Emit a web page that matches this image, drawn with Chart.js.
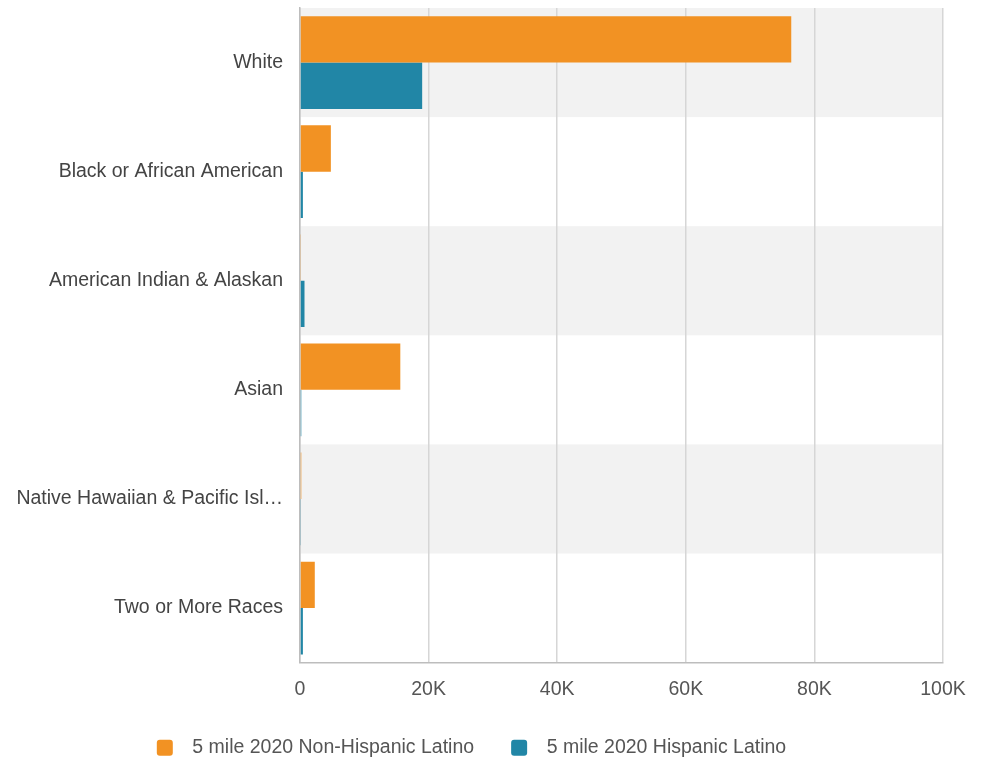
<!DOCTYPE html>
<html>
<head>
<meta charset="utf-8">
<script src="https://cdn.jsdelivr.net/npm/chart.js@4"></script>
<style>
  html, body { margin: 0; padding: 0; background: #fff; }
  #wrap { width: 981px; height: 761px; }
</style>
</head>
<body>
<div id="wrap"><canvas id="chart" width="981" height="761"></canvas></div>
<script>
// Race breakdown, 5 mile radius, 2020
const categories = [
  'White',
  'Black or African American',
  'American Indian & Alaskan',
  'Asian',
  'Native Hawaiian & Pacific Islander',
  'Two or More Races'
];
const nonHispanic = [76400, 4800, 150, 15600, 200, 2300];
const hispanic = [19000, 450, 700, 200, 150, 450];
const xTicks = [0, 20000, 40000, 60000, 80000, 100000];

const ORANGE = 'rgb(242, 146, 35)';
const TEAL = 'rgb(33, 134, 166)';

// Shade every other category row
const rowBands = {
  id: 'rowBands',
  beforeDraw: (chart) => {
    const { ctx, chartArea, scales } = chart;
    const y = scales.y;
    const step = (y.getPixelForValue(1) - y.getPixelForValue(0));
    ctx.save();
    ctx.fillStyle = '#f2f2f2';
    categories.forEach((c, i) => {
      if (i % 2 !== 0) return;
      const mid = y.getPixelForValue(i);
      ctx.fillRect(chartArea.left, mid - step / 2, chartArea.right - chartArea.left, step);
    });
    ctx.restore();
  }
};

Chart.defaults.font.family = '"Liberation Sans", Arial, sans-serif';
Chart.defaults.font.size = 19.5;
Chart.defaults.color = '#555';

new Chart(document.getElementById('chart'), {
  type: 'bar',
  data: {
    labels: categories,
    datasets: [
      {
        label: '5 mile 2020 Non-Hispanic Latino',
        data: nonHispanic,
        backgroundColor: ORANGE,
        categoryPercentage: 0.85,
        barPercentage: 1.0
      },
      {
        label: '5 mile 2020 Hispanic Latino',
        data: hispanic,
        backgroundColor: TEAL,
        categoryPercentage: 0.85,
        barPercentage: 1.0
      }
    ]
  },
  options: {
    indexAxis: 'y',
    responsive: false,
    animation: false,
    layout: { padding: { top: 8, right: 38, left: 0, bottom: 0 } },
    scales: {
      x: {
        min: 0,
        max: 100000,
        afterBuildTicks: (scale) => {
          scale.ticks = xTicks.map(v => ({ value: v }));
        },
        afterFit: (scale) => { scale.height -= 15; },
        ticks: {
          padding: 15,
          color: '#555',
          callback: (v) => (v === 0 ? '0' : (v / 1000) + 'K')
        },
        grid: { color: '#d6d6d6', lineWidth: 1.5, drawTicks: false },
        border: { display: true, color: '#bdbdbd', width: 1.5 }
      },
      y: {
        afterFit: (scale) => {
          scale.width = 300;
          scale.paddingTop = 0;
          scale.paddingBottom = 0;
        },
        ticks: {
          padding: 17,
          color: '#444',
          callback: function (v) {
            const s = this.getLabelForValue(v);
            return s.length > 30 ? s.slice(0, 29) + '…' : s;
          }
        },
        grid: { display: false, drawTicks: false },
        border: { display: true, color: '#bdbdbd', width: 1.5 }
      }
    },
    plugins: {
      legend: {
        position: 'bottom',
        maxHeight: 60,
        labels: {
          boxWidth: 16,
          boxHeight: 16,
          useBorderRadius: true,
          borderRadius: 3,
          padding: 37,
          color: '#555',
          generateLabels: (chart) => {
            const items = Chart.defaults.plugins.legend.labels.generateLabels(chart);
            items.forEach(it => { it.text = '\u2002' + it.text; });
            return items;
          }
        }
      },
      tooltip: { enabled: false }
    }
  },
  plugins: [rowBands]
});
</script>
</body>
</html>
